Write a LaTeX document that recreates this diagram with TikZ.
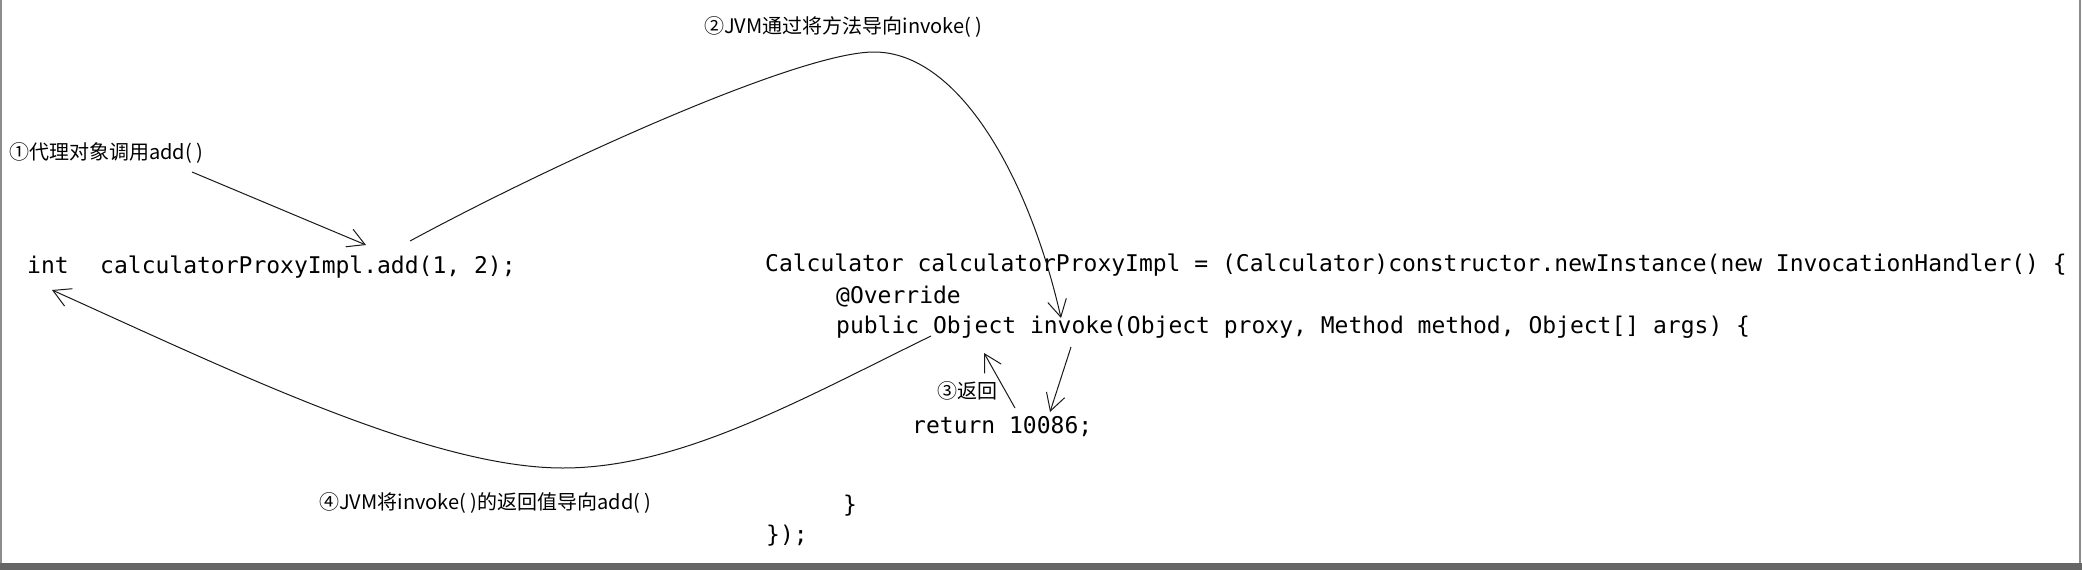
\documentclass[tikz,border=0pt]{standalone}
\usepackage{fontspec}
\setmonofont{DejaVu Sans Mono}
\newfontfamily\cjk{Noto Sans CJK SC}
\usetikzlibrary{arrows.meta,bending}
\begin{document}
\begin{tikzpicture}[x=1pt,y=-1pt,
  code/.style={anchor=base west, inner sep=0pt, font=\ttfamily\fontsize{23}{27}\selectfont},
  lab/.style={anchor=west, inner sep=0pt, font=\cjk\fontsize{20}{24}\selectfont},
  arr/.style={line width=1pt, draw=black!90, -{Straight Barb[length=17pt,width=19pt]}}]
\fill[white] (0,0) rectangle (2082,570);
\useasboundingbox (0,0) rectangle (2082,570);
\fill[black!60] (0,563) rectangle (2082,570);
\draw[black!45, line width=1.5pt] (0.75,0) -- (0.75,563);
\draw[black!45, line width=1.5pt] (2080,0) -- (2080,563);

% code
\node[code] (call) at (27,273) {int\hspace{31.5pt}calculatorProxyImpl.add(1, 2);};
\node[code] (decl) at (765,271) {Calculator calculatorProxyImpl = (Calculator)constructor.newInstance(new InvocationHandler() \{};
\node[code] (ovr) at (836,303) {@Override};
\node[code] (sig) at (836,333) {public Object invoke(Object proxy, Method method, Object[] args) \{};
\node[code] (ret) at (912,433) {return 10086;};
\node[code] (cl1) at (843,512) {\}};
\node[code] (cl2) at (766,542) {\});};

% labels
\node[lab] (l1) at (9,153) {①代理对象调用add( )};
\node[lab] (l2) at (704,27) {②JVM通过将方法导向invoke( )};
\node[lab] (l3) at (937,391) {③返回};
\node[lab] (l4) at (319,503) {④JVM将invoke( )的返回值导向add( )};

% arrow end points
\coordinate (a1s) at (192,172);
\coordinate (a1e) at (366,245);
\coordinate (a2s) at (410,241);
\coordinate (a2p) at (874,52);
\coordinate (a2e) at (1061,318);
\coordinate (a3s) at (1071,347);
\coordinate (a3e) at (1050,412);
\coordinate (a3bs) at (1015,408);
\coordinate (a3be) at (984,353);
\coordinate (a4s) at (931,336);
\coordinate (a4m) at (563,468);
\coordinate (a4e) at (52,290);

\draw[arr] (a1s) -- (a1e);
\draw[arr] (a2s) .. controls (560,160) and (800,52) .. (a2p) .. controls (960,52) and (1030,180) .. (a2e);
\draw[arr] (a3s) -- (a3e);
\draw[arr] (a3bs) -- (a3be);
\draw[arr] (a4s) .. controls (800,400) and (680,468) .. (a4m) .. controls (430,468) and (230,370) .. (a4e);
\end{tikzpicture}
\end{document}
